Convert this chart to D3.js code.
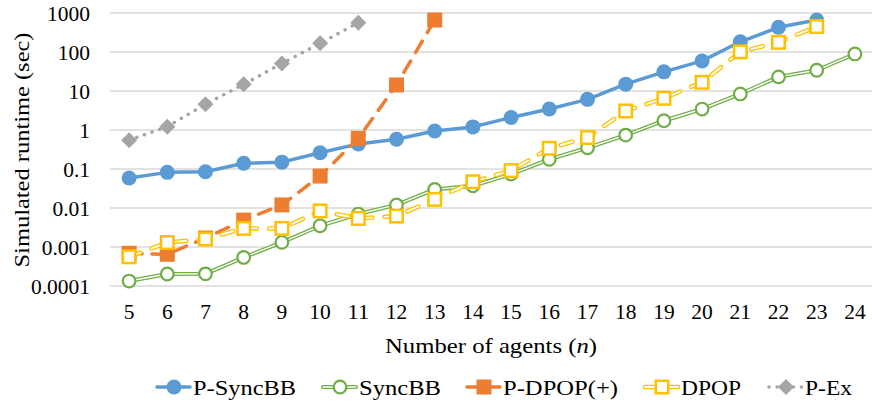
<!DOCTYPE html>
<html>
<head>
<meta charset="utf-8">
<script src="https://cdn.jsdelivr.net/npm/d3@7"></script>
<style>
  body { margin: 0; background: #fff; }
  svg text { font-family: "Liberation Serif", "Tinos", "Times New Roman", "DejaVu Serif", serif; fill: #000; }
</style>
</head>
<body>
<div id="chart"></div>
<script>
var agents = [5, 6, 7, 8, 9, 10, 11, 12, 13, 14, 15, 16, 17, 18, 19, 20, 21, 22, 23, 24];
var yTicks = [0.0001, 0.001, 0.01, 0.1, 1, 10, 100, 1000];
var yTickLabels = ["0.0001", "0.001", "0.01", "0.1", "1", "10", "100", "1000"];

// runtimes, null = no point
var pSyncBB = [0.059, 0.082, 0.085, 0.14, 0.15, 0.26, 0.44, 0.58, 0.94, 1.2, 2.1, 3.45, 6.1, 15, 31, 59, 183, 430, 660, null];
var syncBB = [0.000134, 0.000203, 0.000205, 0.00054, 0.00132, 0.0035, 0.007, 0.012, 0.03, 0.037, 0.074, 0.177, 0.35, 0.74, 1.73, 3.45, 8.4, 23, 34, 89];
var pDPOP = [0.00069, 0.00065, 0.0017, 0.0049, 0.012, 0.066, 0.61, 14.3, 660, null, null, null, null, null, null, null, null, null, null, null];
var dpop = [0.00056, 0.0013, 0.0016, 0.003, 0.003, 0.0084, 0.0054, 0.0062, 0.0166, 0.047, 0.091, 0.34, 0.64, 3.07, 6.5, 16.7, 101, 177, 450, null];
var pEx = [0.55, 1.22, 4.6, 14.8, 51, 167, 565, null, null, null, null, null, null, null, null, null, null, null, null, null];

var seriesNames = ["P-SyncBB", "SyncBB", "P-DPOP(+)", "DPOP", "P-Ex"];
var seriesValues = [pSyncBB, syncBB, pDPOP, dpop, pEx];

var width = 872, height = 404;
var margin = {left: 110, right: -2, top: 13, bottom: 118};
var serif = "'Liberation Serif', 'Tinos', 'Times New Roman', 'DejaVu Serif', serif";

var styles = {
    "P-SyncBB": {color: "#5B9BD5", width: 3.5, dash: null, dbl: false, marker: "circle", fill: true},
    "SyncBB": {color: "#70AD47", width: 4, dash: null, dbl: true, marker: "circle", fill: false},
    "P-DPOP(+)": {color: "#ED7D31", width: 3.5, dash: "13,10", dbl: false, marker: "square", fill: true},
    "DPOP": {color: "#FFC000", width: 4.5, dash: "12,12", dbl: true, marker: "square", fill: false},
    "P-Ex": {color: "#A5A5A5", width: 3.5, dash: "0.1,8", dbl: false, marker: "diamond", fill: true}
};

// width the number would have in Times at 21.5px (digits 0.5em, dot 0.25em)
function numWidth(s) {
    s = String(s);
    var dots = s.split(".").length - 1;
    return ((s.length - dots) * 0.5 + dots * 0.25) * 21.5;
}

var svg = d3.select("#chart").append("svg").attr("width", width).attr("height", height)
    .attr("font-family", serif);

var xScale = d3.scaleBand()
    .domain(agents)
    .range([margin.left, width - margin.right]);

var yScale = d3.scaleLog()
    .domain([0.0001, 1000])
    .range([height - margin.bottom, margin.top]);

// gridlines
svg.append("g")
    .selectAll("line")
    .data(yTicks)
    .enter()
    .append("line")
    .attr("x1", margin.left)
    .attr("x2", width - margin.right)
    .attr("y1", d => yScale(d))
    .attr("y2", d => yScale(d))
    .attr("stroke", "#d9d9d9")
    .attr("stroke-width", 1.3);

// y axis
var axisy = d3.axisLeft(yScale).tickValues(yTicks).tickFormat((d, i) => yTickLabels[i]).tickSize(0).tickPadding(20);
var gy = svg.append("g")
    .attr("transform", "translate(" + margin.left + ",0)")
    .call(axisy)
    .attr("font-family", serif);
gy.select(".domain").remove();
gy.selectAll("text")
    .attr("font-size", "21px")
    .attr("dy", "0.35em")
    .attr("textLength", function() { return numWidth(this.textContent); })
    .attr("lengthAdjust", "spacingAndGlyphs");

// x axis
var axisx = d3.axisBottom(xScale).tickSize(0).tickPadding(18);
var gx = svg.append("g")
    .attr("transform", "translate(0," + (height - margin.bottom) + ")")
    .call(axisx)
    .attr("font-family", serif);
gx.select(".domain").remove();
gx.selectAll("text")
    .attr("font-size", "21px")
    .attr("textLength", function() { return numWidth(this.textContent); })
    .attr("lengthAdjust", "spacingAndGlyphs");

// axis titles
svg.append("text")
    .attr("x", 491)
    .attr("y", 353)
    .attr("text-anchor", "middle")
    .attr("font-size", "22px")
    .attr("textLength", 212)
    .attr("lengthAdjust", "spacingAndGlyphs")
    .html("Number of agents (<tspan font-style='italic'>n</tspan>)");

svg.append("text")
    .attr("transform", "translate(29,150) rotate(-90)")
    .attr("text-anchor", "middle")
    .attr("font-size", "22px")
    .attr("textLength", 235)
    .attr("lengthAdjust", "spacingAndGlyphs")
    .text("Simulated runtime (sec)");

function drawMarker(g, st, x, y) {
    if (st.marker == "circle") {
        g.append("circle")
            .attr("cx", x).attr("cy", y)
            .attr("r", st.fill ? 7.5 : 6.3)
            .attr("fill", st.fill ? st.color : "#fff")
            .attr("stroke", st.color)
            .attr("stroke-width", st.fill ? 0 : 2.2);
    } else if (st.marker == "square") {
        var s = st.fill ? 15 : 12.5;
        g.append("rect")
            .attr("x", x - s / 2).attr("y", y - s / 2)
            .attr("width", s).attr("height", s)
            .attr("fill", st.fill ? st.color : "#fff")
            .attr("stroke", st.color)
            .attr("stroke-width", st.fill ? 0 : 2.5);
    } else {
        g.append("path")
            .attr("d", "M" + x + "," + (y - 8) + "L" + (x + 8) + "," + y + "L" + x + "," + (y + 8) + "L" + (x - 8) + "," + y + "Z")
            .attr("fill", st.color);
    }
}

function drawLine(g, st, pathD) {
    var p = g.append("path")
        .attr("d", pathD)
        .attr("fill", "none")
        .attr("stroke", st.color)
        .attr("stroke-width", st.width)
        .attr("stroke-linecap", "round")
        .attr("stroke-linejoin", "round");
    if (st.dash) p.attr("stroke-dasharray", st.dash);
    if (st.dbl) {
        var q = g.append("path")
            .attr("d", pathD)
            .attr("fill", "none")
            .attr("stroke", "#fff")
            .attr("stroke-width", st.width - 2.6)
            .attr("stroke-linecap", "round")
            .attr("stroke-linejoin", "round");
        if (st.dash) q.attr("stroke-dasharray", st.dash);
    }
}

var curveFunc = d3.line()
    .defined(d => d.v != null)
    .x(d => xScale(d.n) + xScale.bandwidth() / 2)
    .y(d => yScale(d.v));

seriesNames.forEach(function(name, si) {
    var st = styles[name];
    var pts = agents.map((n, i) => ({n: n, v: seriesValues[si][i]}));
    var g = svg.append("g");
    drawLine(g, st, curveFunc(pts));
    pts.filter(d => d.v != null).forEach(function(d) {
        drawMarker(g, st, xScale(d.n) + xScale.bandwidth() / 2, yScale(d.v));
    });
});

// legend
var legendX = [157, 323, 467, 645, 769];
var legendTextW = [103, 82, 115, 60, 47];
var legend = svg.append("g");
seriesNames.forEach(function(name, i) {
    var st = styles[name];
    var lx = legendX[i], ly = 387;
    var g = legend.append("g");
    drawLine(g, st, "M" + lx + "," + ly + "L" + (lx + 33) + "," + ly);
    drawMarker(g, st, lx + 17, ly);
    g.append("text")
        .attr("x", lx + 36)
        .attr("y", ly)
        .attr("dy", "0.35em")
        .attr("font-size", "22px")
        .attr("textLength", legendTextW[i])
        .attr("lengthAdjust", "spacingAndGlyphs")
        .text(name);
});
</script>
</body>
</html>
